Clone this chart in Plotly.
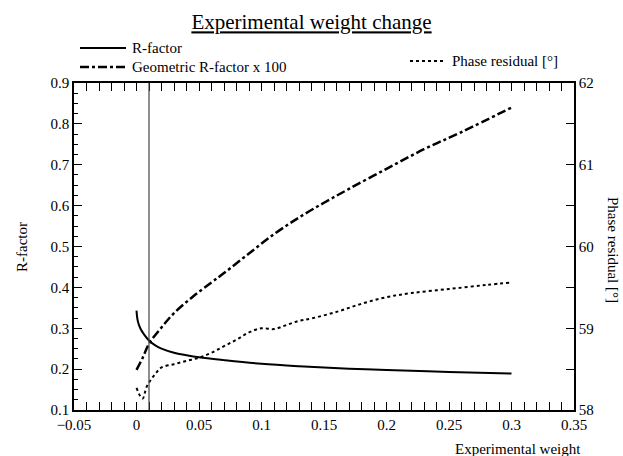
import plotly.graph_objects as go

# R-factor (left axis)
r_x = [0, 0.001, 0.003, 0.006, 0.01, 0.015, 0.02, 0.03, 0.04, 0.05, 0.07, 0.1, 0.13, 0.17, 0.2, 0.25, 0.3]
r_y = [0.343, 0.318, 0.300, 0.285, 0.270, 0.258, 0.250, 0.240, 0.234, 0.229, 0.222, 0.213, 0.207, 0.201, 0.198, 0.193, 0.189]

# Geometric R-factor x 100 (left axis)
g_x = [0, 0.005, 0.01, 0.02, 0.03, 0.045, 0.06, 0.07, 0.09, 0.11, 0.13, 0.15, 0.17, 0.2, 0.23, 0.26, 0.3]
g_y = [0.198, 0.228, 0.262, 0.302, 0.337, 0.377, 0.412, 0.435, 0.483, 0.530, 0.571, 0.607, 0.641, 0.69, 0.738, 0.78, 0.84]

# Phase residual [deg] (right axis)
p_x = [0, 0.003, 0.005, 0.008, 0.012, 0.016, 0.02, 0.03, 0.04, 0.05, 0.06, 0.07, 0.08, 0.09, 0.1,
       0.11, 0.12, 0.13, 0.14, 0.16, 0.18, 0.2, 0.22, 0.25, 0.28, 0.3]
p_y = [58.27, 58.17, 58.14, 58.28, 58.38, 58.46, 58.52, 58.56, 58.6, 58.64, 58.7, 58.78, 58.86, 58.95, 59.0,
       58.99, 59.04, 59.09, 59.12, 59.2, 59.3, 59.38, 59.43, 59.48, 59.53, 59.56]

ref_weight = 0.01

FONT = "Liberation Serif"

W, H = 623, 456
L, R, T, B = 74, 49, 83, 46
PW, PH = W - L - R, H - T - B


def px(xp):
    return (xp - L) / PW


def py(yp):
    return (H - B - yp) / PH


fig = go.Figure()
fig.add_trace(go.Scatter(x=r_x, y=r_y, mode="lines", name="R-factor",
                         line=dict(color="black", width=2, shape="spline")))
fig.add_trace(go.Scatter(x=g_x, y=g_y, mode="lines", name="Geometric R-factor x 100",
                         line=dict(color="black", width=2.5, dash="dashdot", shape="spline")))
fig.add_trace(go.Scatter(x=p_x, y=p_y, mode="lines", name="Phase residual [°]",
                         line=dict(color="black", width=2, dash="dot", shape="spline"),
                         yaxis="y2"))

fig.add_shape(type="line", x0=ref_weight, x1=ref_weight, y0=0.1, y1=0.9, xref="x", yref="y",
              line=dict(color="#444444", width=1.2))

legend_items = [
    (80, 126, 48, "solid", 2, "R-factor"),
    (80, 126, 67, "dashdot", 2.5, "Geometric R-factor x 100"),
    (410, 446, 61, "dot", 2, "Phase residual [°]"),
]
annotations = []
for x0, x1, yy, dash, lw, txt in legend_items:
    fig.add_shape(type="line", xref="paper", yref="paper", x0=px(x0), x1=px(x1), y0=py(yy), y1=py(yy),
                  line=dict(color="black", width=lw, dash=dash))
    annotations.append(dict(text=txt, xref="paper", yref="paper", x=px(x1 + 4), y=py(yy),
                            xanchor="left", yanchor="middle", showarrow=False,
                            font=dict(family=FONT, size=15, color="black")))

annotations += [
    dict(text="Experimental weight", xref="paper", yref="paper",
         x=px(518), y=py(449), xanchor="center", yanchor="middle",
         showarrow=False, font=dict(family=FONT, size=15)),
    dict(text="Phase residual [°]", xref="paper", yref="paper",
         x=px(613), y=py(250), xanchor="center", yanchor="middle",
         textangle=90, showarrow=False, font=dict(family=FONT, size=15)),
    dict(text="R-factor", xref="paper", yref="paper",
         x=px(22), y=py(247), xanchor="center", yanchor="middle",
         textangle=-90, showarrow=False, font=dict(family=FONT, size=15)),
]

fig.update_layout(
    width=W, height=H,
    margin=dict(l=L, r=R, t=T, b=B),
    paper_bgcolor="white", plot_bgcolor="white",
    font=dict(family=FONT, size=15, color="black"),
    showlegend=False,
    title=dict(text="<u>Experimental weight change</u>", x=0.5, xanchor="center",
               y=1 - 22 / H, yanchor="middle", yref="container",
               font=dict(family=FONT, size=21, color="black")),
    xaxis=dict(range=[-0.05, 0.35], dtick=0.05, tick0=0, showgrid=False, zeroline=False,
               showline=True, linecolor="black", linewidth=1.5, mirror="allticks",
               ticks="inside", ticklen=8, tickwidth=1, tickcolor="black",
               minor=dict(dtick=0.01, ticks="inside", ticklen=4, tickwidth=1, tickcolor="black", showgrid=False),
               tickfont=dict(family=FONT, size=15)),
    yaxis=dict(range=[0.1, 0.9], dtick=0.1, showgrid=False, zeroline=False,
               showline=True, linecolor="black", linewidth=1.5,
               ticks="inside", ticklen=8, tickwidth=1, tickcolor="black",
               minor=dict(dtick=0.025, ticks="inside", ticklen=4, tickwidth=1, tickcolor="black", showgrid=False),
               tickfont=dict(family=FONT, size=15)),
    yaxis2=dict(range=[58, 62], dtick=1, overlaying="y", side="right", showgrid=False, zeroline=False,
                showline=True, linecolor="black", linewidth=1.5,
                ticks="inside", ticklen=8, tickwidth=1, tickcolor="black",
                minor=dict(dtick=0.5, ticks="inside", ticklen=8, tickwidth=1, tickcolor="black", showgrid=False),
                tickfont=dict(family=FONT, size=15)),
    annotations=annotations,
)

fig.write_html("out.html")
